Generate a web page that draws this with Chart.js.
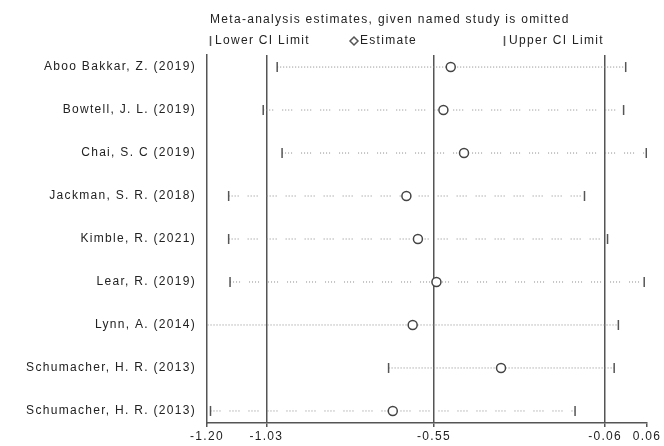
<!DOCTYPE html>
<html>
<head>
<meta charset="utf-8">
<script src="https://cdn.jsdelivr.net/npm/chart.js@4.4.0/dist/chart.umd.min.js"></script>
<style>
  html, body { margin: 0; padding: 0; background: #fff; }
  canvas { display: block; }
</style>
</head>
<body>
<canvas id="chart" width="664" height="446"></canvas>
<script>
const studies = [
    "Aboo Bakkar, Z. (2019)",
    "Bowtell, J. L. (2019)",
    "Chai, S. C (2019)",
    "Jackman, S. R. (2018)",
    "Kimble, R. (2021)",
    "Lear, R. (2019)",
    "Lynn, A. (2014)",
    "Schumacher, H. R. (2013)",
    "Schumacher, H. R. (2013)",
];
const estimate = [-0.502, -0.523, -0.464, -0.629, -0.596, -0.543, -0.611, -0.358, -0.668];
const lowerCI  = [-0.999, -1.039, -0.985, -1.138, -1.138, -1.134, -1.250, -0.680, -1.190];
const upperCI  = [-0.001, -0.007, 0.058, -0.119, -0.053, 0.052, -0.022, -0.034, -0.146];
const xTicks   = [-1.20, -1.03, -0.55, -0.06, 0.06];
const refLines = [-1.03, -0.55, -0.06];

const FONT = '12px "Liberation Sans", Arial, sans-serif';
const SPACING = "1.3px";
const INK = "#222";
const LINE = "#555";
// rows whose dotted CI line renders dense in the original; the rest look grouped
const denseRows = [0, 6, 7];

// Stata-style spaced lettering
const spacing = {
    id: "spacing",
    beforeUpdate: (chart) => { chart.ctx.letterSpacing = SPACING; },
    beforeDraw: (chart) => { chart.ctx.letterSpacing = SPACING; },
};

// header title and legend row
const header = {
    id: "header",
    afterDraw(chart) {
        const ctx = chart.ctx;
        ctx.save();
        ctx.letterSpacing = SPACING;
        ctx.font = FONT;
        ctx.fillStyle = INK;
        ctx.textBaseline = "middle";
        ctx.textAlign = "left";
        ctx.fillText("Meta-analysis estimates, given named study is omitted", 210, 20);

        ctx.strokeStyle = LINE;
        ctx.lineWidth = 1.5;
        const y = 41;
        // lower limit key
        ctx.beginPath(); ctx.moveTo(210.5, y - 5); ctx.lineTo(210.5, y + 5); ctx.stroke();
        ctx.fillText("Lower CI Limit", 215, y);
        // estimate key
        ctx.beginPath();
        ctx.moveTo(354, y - 4); ctx.lineTo(358, y); ctx.lineTo(354, y + 4); ctx.lineTo(350, y);
        ctx.closePath(); ctx.stroke();
        ctx.fillText("Estimate", 360, y);
        // upper limit key
        ctx.beginPath(); ctx.moveTo(504.5, y - 5); ctx.lineTo(504.5, y + 5); ctx.stroke();
        ctx.fillText("Upper CI Limit", 509, y);
        ctx.restore();
    },
};

const ciSets = studies.map((s, i) => ({
    type: "line",
    label: s,
    data: [{ x: lowerCI[i], y: i + 1 }, { x: upperCI[i], y: i + 1 }],
    borderColor: "#888",
    borderWidth: 1,
    borderDash: denseRows.includes(i) ? [1, 2] : [1, 2, 1, 2, 1, 2, 1, 9],
    pointStyle: "line",
    rotation: 90,
    pointRadius: 5,
    pointBorderColor: LINE,
    pointBorderWidth: 1.5,
    order: 1,
}));

new Chart(document.getElementById("chart"), {
    type: "scatter",
    data: {
        datasets: [
            {
                label: "Estimate",
                data: estimate.map((v, i) => ({ x: v, y: i + 1 })),
                pointStyle: "circle",
                pointRadius: 4.5,
                pointBackgroundColor: "#fff",
                pointBorderColor: "#444",
                pointBorderWidth: 1.5,
                order: 0,
            },
            ...ciSets,
        ],
    },
    options: {
        responsive: false,
        animation: false,
        events: [],
        layout: { padding: { top: 55, right: 17, left: 0, bottom: 0 } },
        plugins: {
            legend: { display: false },
            tooltip: { enabled: false },
        },
        scales: {
            x: {
                type: "linear",
                min: -1.20,
                max: 0.06,
                afterBuildTicks: (s) => { s.ticks = xTicks.map(v => ({ value: v })); },
                afterFit: (s) => { s.height = 23; },
                border: { display: true, color: LINE, width: 1.5 },
                grid: {
                    color: (c) => refLines.includes(c.tick && c.tick.value) ? LINE : "transparent",
                    lineWidth: 1.5,
                    tickColor: LINE,
                    tickLength: 4,
                    drawTicks: true,
                },
                ticks: {
                    font: { family: '"Liberation Sans", Arial, sans-serif', size: 12 },
                    color: INK,
                    padding: 2,
                    maxRotation: 0,
                    autoSkip: false,
                    callback: (v) => v.toFixed(2),
                },
            },
            y: {
                type: "linear",
                reverse: true,
                min: 0.72,
                max: 9.28,
                afterBuildTicks: (s) => { s.ticks = studies.map((_, i) => ({ value: i + 1 })); },
                afterFit: (s) => { s.width = 207; },
                border: { display: true, color: LINE, width: 1.5 },
                grid: { display: false, drawTicks: false },
                ticks: {
                    font: { family: '"Liberation Sans", Arial, sans-serif', size: 12 },
                    color: INK,
                    padding: 11,
                    autoSkip: false,
                    callback: (v) => studies[v - 1],
                },
            },
        },
    },
    plugins: [spacing, header],
});
</script>
</body>
</html>
